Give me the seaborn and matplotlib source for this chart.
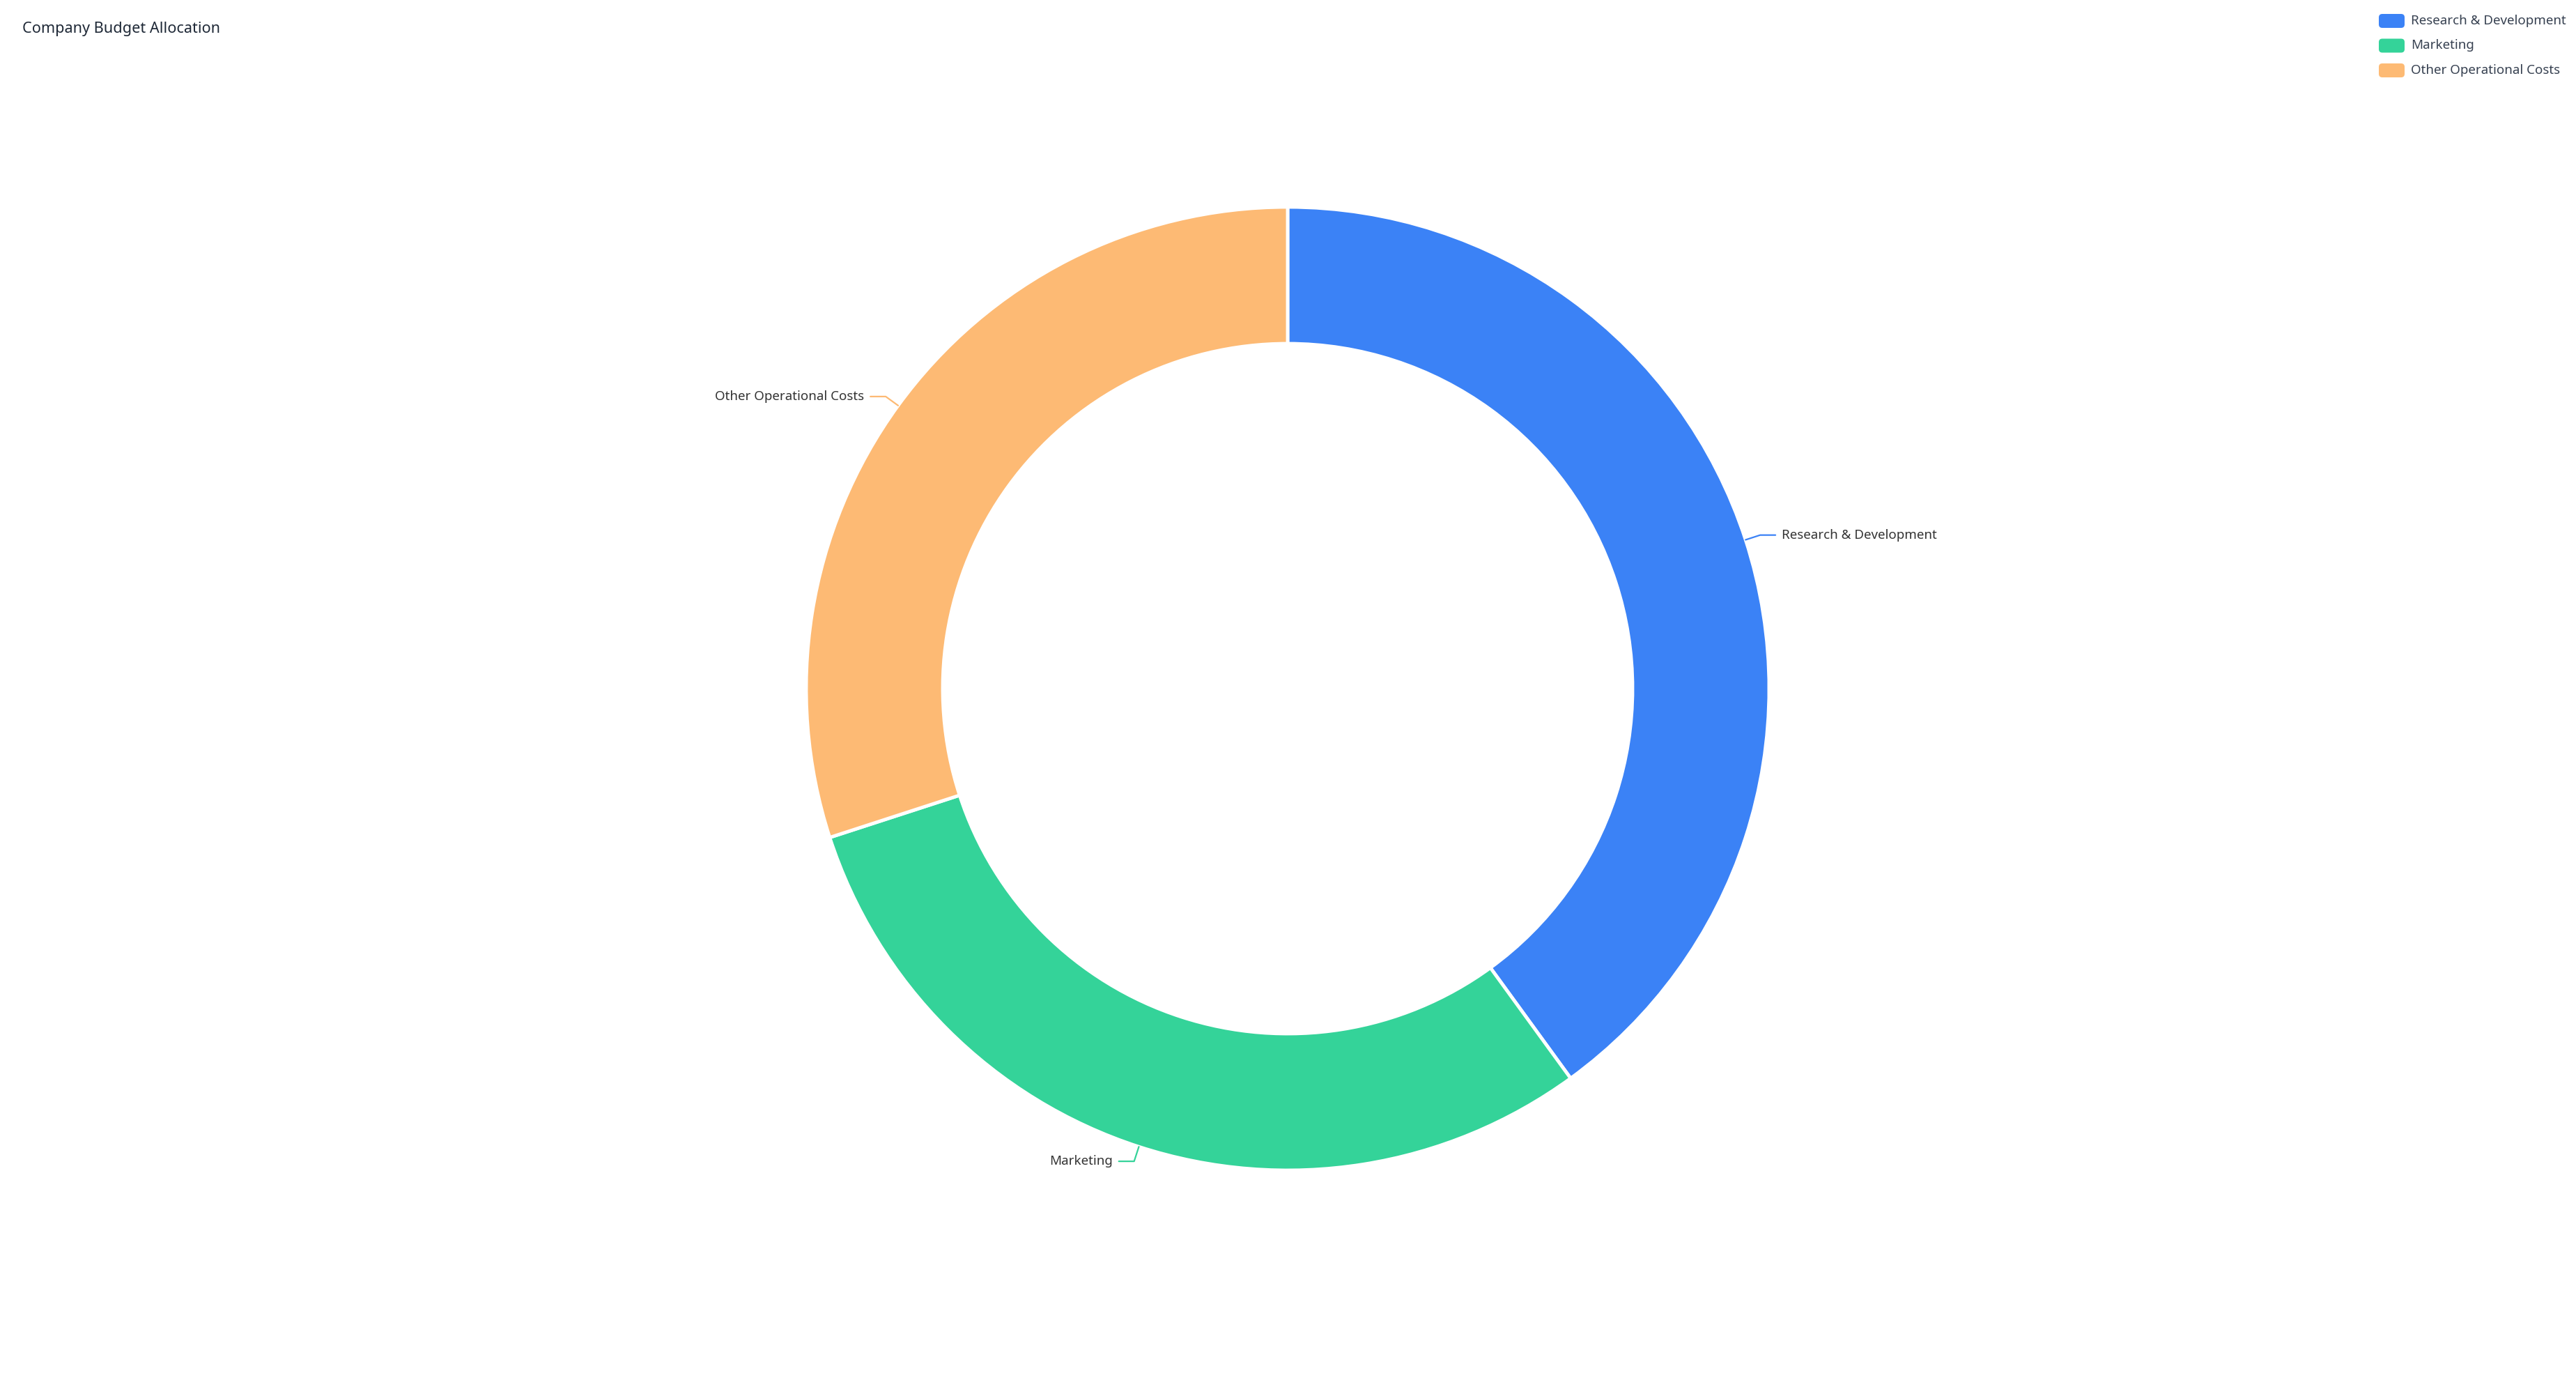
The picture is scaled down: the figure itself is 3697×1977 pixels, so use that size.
import numpy as np
import matplotlib
matplotlib.use("Agg")
import matplotlib.pyplot as plt
import seaborn as sns
from matplotlib.patches import FancyBboxPatch

# data
categories = ["Research & Development", "Marketing", "Other Operational Costs"]
values = [40, 30, 30]
colors = ["#3B82F6", "#34D399", "#FDBA74"]
title = "Company Budget Allocation"

sns.set_theme(style="white")
plt.rcParams["font.family"] = ["Noto Sans", "DejaVu Sans"]

W, H = 3697, 1977
fig = plt.figure(figsize=(W / 100, H / 100), dpi=100)
ax = fig.add_axes([0, 0, 1, 1])

cx, cy = 1848, H - 988
r_out, r_in = 691, 495

wedges, _ = ax.pie(values, colors=colors, startangle=90, counterclock=False,
                   radius=r_out, center=(cx, cy), frame=True,
                   wedgeprops=dict(width=r_out - r_in, edgecolor="white",
                                   linewidth=3.5, joinstyle="round"))
ax.set_xlim(0, W)
ax.set_ylim(0, H)
ax.set_aspect("equal")
ax.axis("off")

# outside labels with leader lines
for w, label, c in zip(wedges, categories, colors):
    ang = np.deg2rad((w.theta1 + w.theta2) / 2)
    x0, y0 = cx + r_out * np.cos(ang), cy + r_out * np.sin(ang)
    x1, y1 = cx + (r_out + 22) * np.cos(ang), cy + (r_out + 22) * np.sin(ang)
    side = 1 if np.cos(ang) >= 0 else -1
    x2 = x1 + side * 22
    ax.plot([x0, x1, x2], [y0, y1, y1], color=c, lw=1.6, solid_capstyle="round")
    ax.text(x2 + side * 9, y1, label, ha="left" if side > 0 else "right",
            va="center", fontsize=13.5, color="#333333")

# title
ax.text(32, H - 42, title, ha="left", va="center", fontsize=15.6, color="#1f2937")

# legend
for i, (label, c) in enumerate(zip(categories, colors)):
    yc = H - (30 + i * 35.5)
    box = FancyBboxPatch((3414, yc - 10), 37, 20,
                         boxstyle="round,pad=0,rounding_size=5",
                         facecolor=c, edgecolor="none")
    ax.add_patch(box)
    ax.text(3460, yc, label, ha="left", va="center", fontsize=13.5, color="#374151")

fig.savefig("out.png", dpi=100, facecolor="white")
